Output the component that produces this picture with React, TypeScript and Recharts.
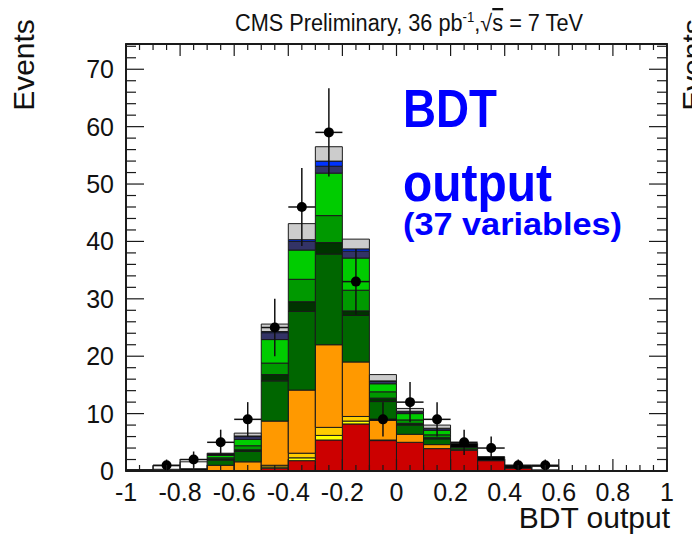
import React from 'react';
import { ComposedChart, Bar, Scatter, ErrorBar, XAxis, YAxis, ReferenceArea } from 'recharts';

// bin low edges, BDT output from -1 to 1 in 20 bins
const binLabels = ['-1.0', '-0.9', '-0.8', '-0.7', '-0.6', '-0.5', '-0.4', '-0.3', '-0.2', '-0.1',
  '0.0', '0.1', '0.2', '0.3', '0.4', '0.5', '0.6', '0.7', '0.8', '0.9'];

// stacked MC components, bottom to top
const red = [0, 0, 0, 0, 0, 0.5, 1.8, 5.4, 8.2, 5.3, 5.0, 3.9, 3.6, 1.8, 0.5, 0, 0, 0, 0, 0];
const yellow = [0, 0, 0, 0, 0, 0.2, 0.5, 0.8, 0.5, 0, 0, 0, 0, 0, 0, 0, 0, 0, 0, 0];
const gold = [0, 0, 0, 0, 0, 0.3, 0.8, 1.4, 0.8, 0.1, 0, 0, 0, 0, 0, 0, 0, 0, 0, 0];
const orange = [0, 0, 0, 1.0, 1.6, 7.7, 11.0, 14.4, 9.5, 3.4, 1.4, 0.7, 0.2, 0, 0, 0, 0, 0, 0, 0];
const darkGreen = [0, 0, 0, 0.9, 1.8, 7.0, 13.7, 15.8, 8.1, 3.3, 1.6, 1.0, 0.3, 0, 0, 0, 0, 0, 0, 0];
const darkestGreen = [0, 0, 0, 0.2, 0.3, 1.1, 1.7, 2.0, 0.8, 0.6, 0.3, 0.2, 0, 0, 0, 0, 0, 0, 0, 0];
const midGreen = [0, 0, 0, 0.2, 0.7, 2.0, 3.9, 4.7, 3.6, 1.1, 0.6, 0.5, 0, 0, 0, 0, 0, 0, 0, 0];
const brightGreen = [0, 0, 0, 0.4, 1.1, 4.1, 5.1, 7.4, 5.6, 1.4, 1.1, 0.8, 0, 0, 0, 0, 0, 0, 0, 0];
const navy = [0, 0, 0, 0.1, 0.5, 1.2, 1.5, 1.2, 1.2, 0.4, 0.3, 0.3, 0, 0, 0, 0, 0, 0, 0, 0];
const blue = [0, 0, 0, 0, 0.1, 0.2, 0.3, 0.9, 0.4, 0.1, 0.1, 0.05, 0, 0, 0, 0, 0, 0, 0, 0];
const gray = [0, 0, 0, 0, 0.5, 1.3, 2.8, 2.5, 1.7, 1.1, 0.5, 0.55, 0, 0, 0, 0, 0, 0, 0, 0];
const black = [0.25, 0.3, 0.4, 0.3, 0, 0, 0, 0, 0, 0, 0, 0, 0.7, 0.7, 0.4, 0.2, 0, 0, 0, 0];
const white = [0, 0.6, 1.2, 0, 0, 0, 0, 0, 0, 0, 0, 0, 0, 0, 0, 0.6, 0, 0, 0, 0];

// data points
const dataX = [-0.85, -0.75, -0.65, -0.55, -0.45, -0.35, -0.25, -0.15, -0.05, 0.05, 0.15, 0.25, 0.35, 0.45, 0.55];
const dataY = [1, 2, 5, 9, 25, 46, 59, 33, 9, 12, 9, 5, 4, 1, 1];
const dataErr = [1, 1.4, 2.2, 3, 5, 6.8, 7.7, 5.7, 3, 3.5, 3, 2.2, 2, 1, 1];
const halfBin = 0.05;

const yTicks = [0, 2, 4, 6, 8, 10, 12, 14, 16, 18, 20, 22, 24, 26, 28, 30, 32, 34, 36, 38, 40,
  42, 44, 46, 48, 50, 52, 54, 56, 58, 60, 62, 64, 66, 68, 70, 72, 74];
const xTicks = Array.from({ length: 41 }, (_, i) => Math.round((-1 + i * 0.05) * 100) / 100);

const layers = [
  { key: 'red', color: '#cc0000', vals: red },
  { key: 'yellow', color: '#ffff00', vals: yellow },
  { key: 'gold', color: '#ffcc00', vals: gold },
  { key: 'orange', color: '#ff9900', vals: orange },
  { key: 'darkGreen', color: '#006600', vals: darkGreen },
  { key: 'darkestGreen', color: '#003300', vals: darkestGreen },
  { key: 'midGreen', color: '#009900', vals: midGreen },
  { key: 'brightGreen', color: '#00cc00', vals: brightGreen },
  { key: 'navy', color: '#333366', vals: navy },
  { key: 'blue', color: '#0033ff', vals: blue },
  { key: 'gray', color: '#cccccc', vals: gray },
  { key: 'black', color: '#000000', vals: black },
  { key: 'white', color: '#ffffff', vals: white },
];

const bins = binLabels.map((bin, i) => {
  const row: Record<string, number | string> = { bin };
  layers.forEach(l => { row[l.key] = l.vals[i]; });
  return row;
});

const points = dataX.map((x, i) => ({ x, y: dataY[i], ex: halfBin, ey: dataErr[i] }));

const W = 692;
const H = 534;
const M = { top: 44, right: 25, bottom: 62, left: 125 };
const PW = W - M.left - M.right - 1;
const PH = H - M.top - M.bottom - 1;
const Y_MAX = 74.4;
const FONT = "'Liberation Sans', Arial, Helvetica, sans-serif";
const NARROW = "'Liberation Sans Narrow', 'Arial Narrow', 'Liberation Sans', sans-serif";
const INK = '#1a1a1a';

const YTick = ({ x, y, payload }: any) => {
  const v = payload.value;
  const major = v % 10 === 0;
  const len = major ? 18 : 10;
  return (
    <g>
      <line x1={x} x2={x + len} y1={y} y2={y} stroke={INK} strokeWidth={1.2} />
      <line x1={x + PW - len} x2={x + PW} y1={y} y2={y} stroke={INK} strokeWidth={1.2} />
      {major && (
        <text x={x - 12} y={y + 9} textAnchor="end" fontSize={25} fontFamily={FONT} fill="#111">{v}</text>
      )}
    </g>
  );
};

const XTick = ({ x, y, payload }: any) => {
  const v = payload.value;
  const major = Math.round(v * 100) % 20 === 0;
  const len = major ? 12 : 6;
  return (
    <g>
      <line x1={x} x2={x} y1={y} y2={y - len} stroke={INK} strokeWidth={1.2} />
      <line x1={x} x2={x} y1={y - PH} y2={y - PH + len} stroke={INK} strokeWidth={1.2} />
      {major && (
        <text x={x} y={y + 30} textAnchor="middle" fontSize={25} fontFamily={FONT} fill="#111">
          {String(Math.round(v * 10) / 10)}
        </text>
      )}
    </g>
  );
};

const DataDot = (p: any) => <circle cx={p.cx} cy={p.cy} r={5} fill="#000" />;

export default function App() {
  return (
    <div style={{ position: 'absolute', left: 0, top: 0, width: W, height: H, background: '#fff', overflow: 'hidden' }}>
      <ComposedChart width={W} height={H} data={bins} margin={M} barCategoryGap={0} barGap={0}>
        {layers.map(l => (
          <Bar key={l.key} xAxisId="cat" dataKey={l.key} stackId="mc" fill={l.color}
            stroke={INK} strokeWidth={1} isAnimationActive={false} />
        ))}
        <ReferenceArea xAxisId="num" x1={-1} x2={1} y1={0} y2={Y_MAX} fill="none" stroke={INK} strokeWidth={1.8} />
        <Scatter xAxisId="num" data={points} dataKey="y" shape={DataDot} isAnimationActive={false}>
          <ErrorBar dataKey="ex" direction="x" width={0} stroke="#111" strokeWidth={1.5} isAnimationActive={false} />
          <ErrorBar dataKey="ey" direction="y" width={0} stroke="#111" strokeWidth={1.5} isAnimationActive={false} />
        </Scatter>
        <XAxis xAxisId="num" dataKey="x" type="number" domain={[-1, 1]} ticks={xTicks} interval={0}
          allowDataOverflow height={1} tickSize={0} tickMargin={0} tickLine={false}
          axisLine={{ stroke: INK, strokeWidth: 1.8 }} tick={<XTick />} />
        <XAxis xAxisId="cat" dataKey="bin" type="category" hide height={0} />
        <YAxis type="number" domain={[0, Y_MAX]} ticks={yTicks} interval={0} allowDataOverflow
          width={1} tickSize={0} tickMargin={0} tickLine={false}
          axisLine={{ stroke: INK, strokeWidth: 1.8 }} tick={<YTick />} />
      </ComposedChart>
      <svg width={W} height={H} style={{ position: 'absolute', left: 0, top: 0, pointerEvents: 'none' }}>
        <text x={409} y={31} textAnchor="middle" fontSize={23} fontFamily={NARROW} fill="#111"
          textLength={348} lengthAdjust="spacingAndGlyphs">
          CMS Preliminary, 36 pb<tspan dy={-9} fontSize={14}>-1</tspan><tspan dy={9}>,√</tspan><tspan style={{ textDecoration: 'overline' }}>s</tspan> = 7 TeV
        </text>
        <text transform="translate(34,65) rotate(-90)" textAnchor="middle" fontSize={30} fontFamily={FONT} fill="#111">Events</text>
        <text transform="translate(703,65) rotate(-90)" textAnchor="middle" fontSize={30} fontFamily={FONT} fill="#111">Events</text>
        <text x={670} y={528} textAnchor="end" fontSize={30} fontFamily={FONT} fill="#111">BDT output</text>
        <text x={403} y={127} fontSize={54} fontWeight="bold" fontFamily={FONT} fill="#0000ff"
          textLength={94} lengthAdjust="spacingAndGlyphs">BDT</text>
        <text x={403} y={201} fontSize={54} fontWeight="bold" fontFamily={FONT} fill="#0000ff"
          textLength={149} lengthAdjust="spacingAndGlyphs">output</text>
        <text x={403} y={235} fontSize={31} fontWeight="bold" fontFamily={FONT} fill="#0000ff"
          textLength={219} lengthAdjust="spacingAndGlyphs">(37 variables)</text>
      </svg>
    </div>
  );
}
